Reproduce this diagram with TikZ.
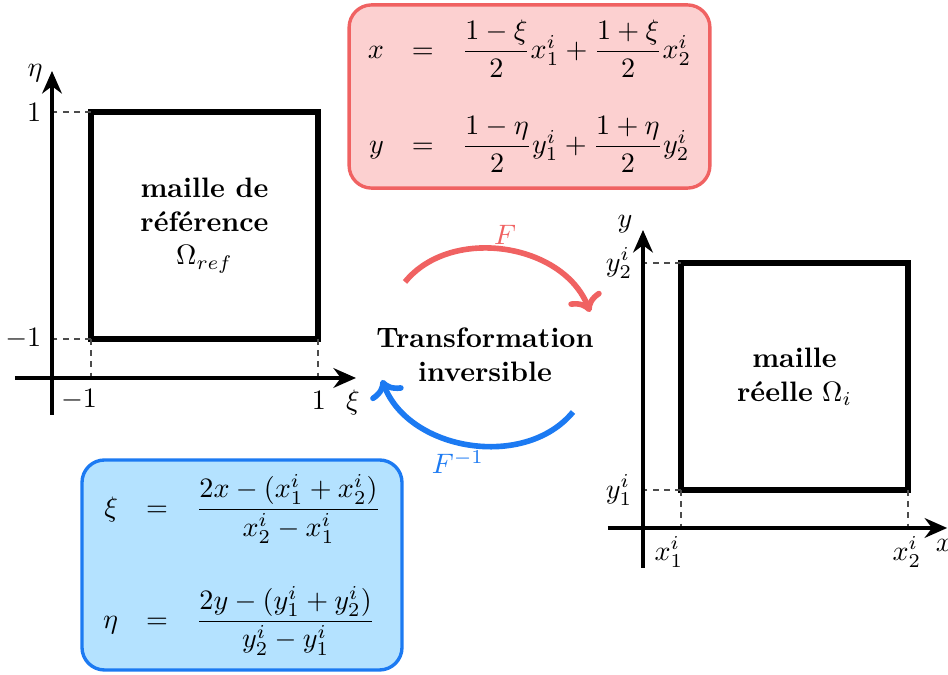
\documentclass[tikz,border=0pt]{standalone}
\usepackage{amsmath}
\usetikzlibrary{arrows.meta}
\definecolor{rougeF}{RGB}{240,98,98}
\definecolor{roseF}{RGB}{252,208,208}
\definecolor{bleuF}{RGB}{28,122,242}
\definecolor{cielF}{RGB}{180,226,255}

\begin{document}
\begin{tikzpicture}[line width=1pt,
  axe/.style={-{Stealth[length=8pt,width=7pt]}, line width=1.3pt},
  maille/.style={draw, line width=2pt, outer sep=0pt, minimum width=2.8375cm, minimum height=2.8375cm, align=center},
  repere/.style={black!70, line width=0.5pt, dash pattern=on 2pt off 2pt},
  fleche/.style={->, line width=2pt},
  boite/.style={draw, rounded corners=8pt, line width=1.2pt, inner sep=0pt}]

\useasboundingbox (0,0) rectangle (11.85,8.4375);

\coordinate (o1) at (0.65,3.7125);
\coordinate (xi0) at (0.1875,3.7125);
\coordinate (xi1) at (4.45,3.7125);
\coordinate (eta0) at (0.65,3.25);
\coordinate (eta1) at (0.65,7.55);

\coordinate (o2) at (8.0375,1.8375);
\coordinate (x0) at (7.6,1.8375);
\coordinate (x1) at (11.84,1.8375);
\coordinate (y0) at (8.0375,1.3375);
\coordinate (y1) at (8.0375,5.5625);

\node[maille] (ref) at (2.55625,5.61875) {\textbf{maille de}\\\textbf{référence}\\$\Omega_{ref}$};
\node[maille] (reel) at (9.93125,3.73125) {\textbf{maille}\\\textbf{réelle} $\Omega_i$};

\draw[repere] (ref.north west) -- (ref.north west -| o1);
\draw[repere] (ref.south west) -- (ref.south west -| o1);
\draw[repere] (ref.south west) -- (ref.south west |- o1);
\draw[repere] (ref.south east) -- (ref.south east |- o1);
\draw[repere] (reel.north west) -- (reel.north west -| o2);
\draw[repere] (reel.south west) -- (reel.south west -| o2);
\draw[repere] (reel.south west) -- (reel.south west |- o2);
\draw[repere] (reel.south east) -- (reel.south east |- o2);

\draw[axe] (xi0) -- (xi1);
\draw[axe] (eta0) -- (eta1);
\draw[axe] (x0) -- (x1);
\draw[axe] (y0) -- (y1);

\node[left] (e1) at (ref.north west -| o1) {$1$};
\node[left] (em1) at (ref.south west -| o1) {$-1$};
\node (xm1) at (0.9875,3.4375) {$-1$};
\node (xp1) at (3.9875,3.4375) {$1$};
\node (xil) at (4.4125,3.4125) {$\xi$};
\node (etal) at (0.4375,7.525) {$\eta$};

\node[left] (y2l) at (reel.north west -| o2) {$y_2^i$};
\node[left] (y1l) at (reel.south west -| o2) {$y_1^i$};
\node (x1l) at (8.3625,1.5375) {$x_1^i$};
\node (x2l) at (11.3375,1.5375) {$x_2^i$};
\node (xl) at (11.8,1.625) {$x$};
\node (yl) at (7.8125,5.6375) {$y$};

\node[align=center] (transf) at (6.0625,4.0) {\textbf{Transformation}\\\textbf{inversible}};

\coordinate (fa) at (5.0625,4.9125);
\coordinate (fb) at (7.375,4.5375);
\coordinate (ga) at (7.1625,3.2875);
\coordinate (gb) at (4.775,3.6875);
\draw[fleche, rougeF] (fa) to[bend left=60] node[above, inner sep=1pt] {$F$} (fb);
\draw[fleche, bleuF] (ga) to[bend left=60] node[below, pos=0.55, inner sep=2pt] {$F^{-1}$} (gb);

\node[boite, draw=rougeF, fill=roseF, minimum width=4.51cm, minimum height=2.29cm] (eqF) at (6.619,7.231)
  {$\begin{array}{rcl}
  x &=& \dfrac{1-\xi}{2}x_1^i+\dfrac{1+\xi}{2}x_2^i\\[17pt]
  y &=& \dfrac{1-\eta}{2}y_1^i+\dfrac{1+\eta}{2}y_2^i
  \end{array}$};
\node[boite, draw=bleuF, fill=cielF, minimum width=4.0cm, minimum height=2.625cm] (eqG) at (3.025,1.375)
  {$\begin{array}{rcl}
  \xi &=& \dfrac{2x-(x_1^i+x_2^i)}{x_2^i-x_1^i}\\[21pt]
  \eta &=& \dfrac{2y-(y_1^i+y_2^i)}{y_2^i-y_1^i}
  \end{array}$};

\end{tikzpicture}
\end{document}
